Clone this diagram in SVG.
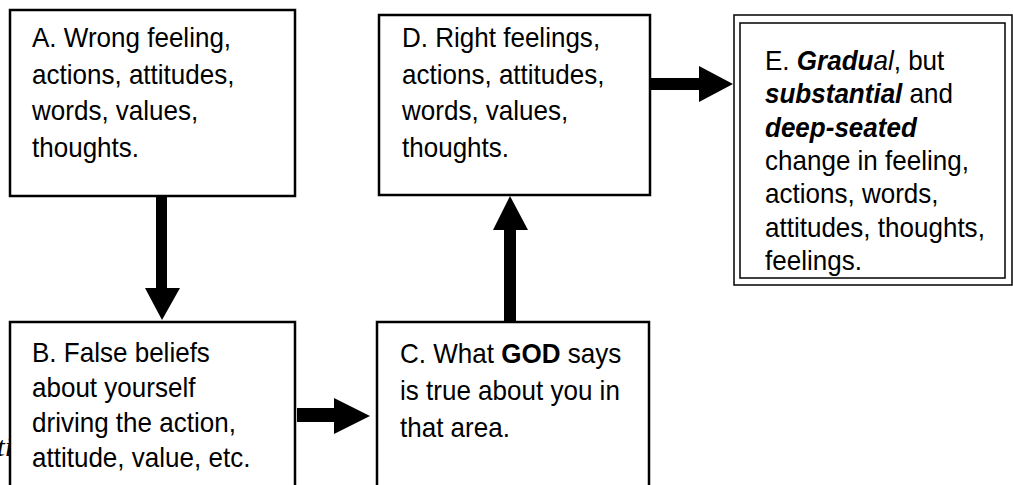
<svg xmlns="http://www.w3.org/2000/svg" width="1013" height="485" viewBox="0 0 1013 485">
<style>
.box{fill:#fff;stroke:#000;stroke-width:2.5}
.thin{fill:none;stroke:#000;stroke-width:1.5}
.t{font-family:"Liberation Sans",Arial,sans-serif;font-size:28px;fill:#000}
.b{font-weight:bold}
.i{font-style:italic}
.arrow{fill:#000}
</style>
<text x="-3" y="456" font-family="Liberation Serif, serif" font-style="italic" font-size="28" fill="#000">ti</text>
<g id="connectors">
<polygon class="arrow" points="156,197 167,197 167,288 180,288 162,320 145,288 156,288"/>
<polygon class="arrow" points="297,408 334,408 334,398 370,416 334,434 334,422 297,422"/>
<polygon class="arrow" points="504,322 516,322 516,230 528,230 510,196 493,230 504,230"/>
<polygon class="arrow" points="650,78 699,78 699,66 733,84 699,102 699,90 650,90"/>
</g>
<g id="nodeA">
<rect class="box" x="10" y="10" width="285" height="186"/>
<text class="t" transform="matrix(0.93 0 0 1 2.24 0)"><tspan x="32" y="47">A. Wrong feeling,</tspan><tspan x="32" y="84">actions, attitudes,</tspan><tspan x="32" y="120">words, values,</tspan><tspan x="32" y="157">thoughts.</tspan></text>
</g>
<g id="nodeB">
<rect class="box" x="10" y="322" width="285" height="180"/>
<text class="t" transform="matrix(0.93 0 0 1 2.24 0)"><tspan x="32" y="362">B. False beliefs</tspan><tspan x="32" y="397">about yourself</tspan><tspan x="32" y="432">driving the action,</tspan><tspan x="32" y="467">attitude, value, etc.</tspan></text>
</g>
<g id="nodeC">
<rect class="box" x="377" y="322" width="272" height="180"/>
<text class="t" transform="matrix(0.93 0 0 1 28 0)"><tspan x="400" y="363">C. What <tspan class="b">GOD</tspan> says</tspan><tspan x="400" y="400">is true about you in</tspan><tspan x="400" y="437">that area.</tspan></text>
</g>
<g id="nodeD">
<rect class="box" x="379" y="15" width="271" height="180"/>
<text class="t" transform="matrix(0.93 0 0 1 28.14 0)"><tspan x="402" y="47">D. Right feelings,</tspan><tspan x="402" y="84">actions, attitudes,</tspan><tspan x="402" y="120">words, values,</tspan><tspan x="402" y="157">thoughts.</tspan></text>
</g>
<g id="nodeE">
<rect class="thin" x="734" y="15" width="278" height="270"/>
<rect class="thin" x="740" y="23" width="265" height="255"/>
<text class="t" transform="matrix(0.93 0 0 1 53.55 0)"><tspan x="765" y="70">E. <tspan class="b i">Gradu</tspan><tspan class="i">al</tspan>, but</tspan><tspan x="765" y="103"><tspan class="b i">substantial</tspan> and</tspan><tspan x="765" y="137" class="b i">deep-seated</tspan><tspan x="765" y="170">change in feeling,</tspan><tspan x="765" y="203">actions, words,</tspan><tspan x="765" y="237">attitudes, thoughts,</tspan><tspan x="765" y="270">feelings.</tspan></text>
</g>
</svg>
